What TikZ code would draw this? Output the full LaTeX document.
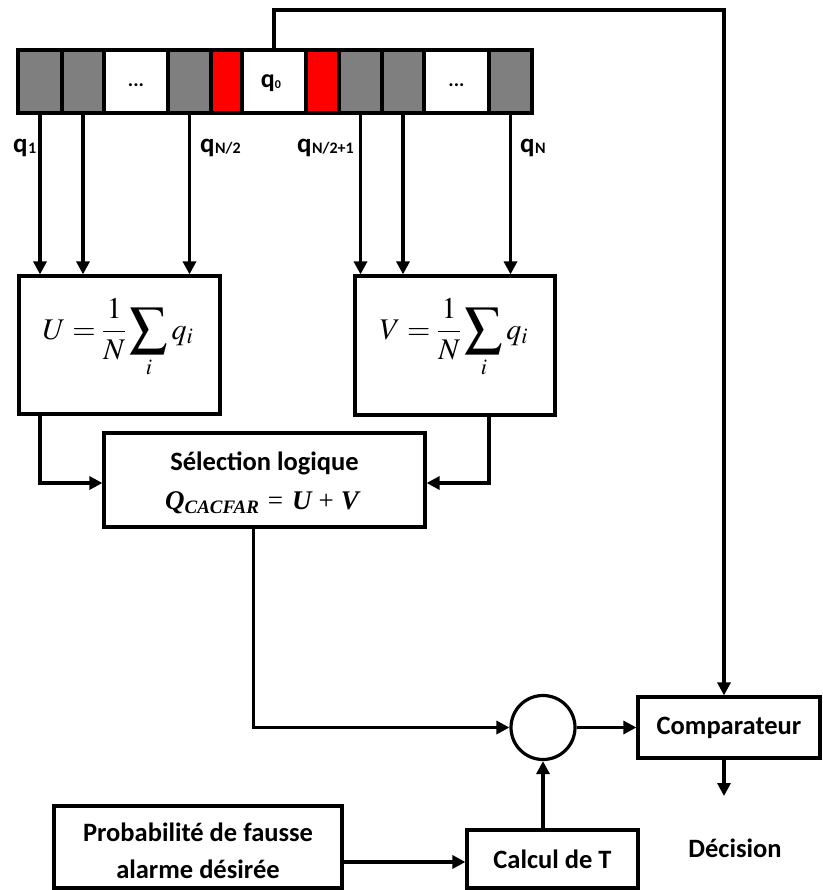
\documentclass[tikz,border=0pt]{standalone}
\usepackage{mathptmx}
\usepackage{graphicx}
\usepackage[no-math]{fontspec}
\newfontfamily\calib{Carlito}
\newfontfamily\tms{Liberation Serif}
\usetikzlibrary{arrows.meta,calc}
\definecolor{cgray}{HTML}{7F7F7F}
\definecolor{cred}{HTML}{FF0000}
\newcommand{\qsub}[1]{\kern0.5pt\raisebox{-1pt}{\fontsize{16}{16}\selectfont #1}}
\newcommand{\bigsum}{\mathop{\vcenter{\hbox{\scalebox{1.25}{$\displaystyle\sum$}}}}\limits_{i}}
\begin{document}
\begin{tikzpicture}[x=1pt,y=-1pt,
  box/.style={draw, line width=3.2pt, inner sep=0pt, align=center, font=\calib\bfseries\fontsize{26.5}{37}\selectfont},
  txt/.style={inner sep=0pt, align=center, font=\calib\bfseries\fontsize{26.5}{37}\selectfont},
  cell/.style={draw, line width=3.2pt, minimum height=63pt, inner sep=0pt},
  arr/.style={line width=3.2pt, -{Triangle[length=13pt,width=13pt]}},
  lab/.style={inner sep=0pt, anchor=base west, font=\calib\bfseries\fontsize{27}{27}\selectfont},
  celltxt/.style={inner sep=0pt, font=\calib\bfseries\fontsize{20}{20}\selectfont},
]
\useasboundingbox (0,0) rectangle (822,890);

% cells
\node[cell, fill=cgray, minimum width=44pt] (c1) at (40,81.5) {};
\node[cell, fill=cgray, minimum width=42pt] (c2) at (83,81.5) {};
\node[cell, fill=white, minimum width=64pt] (c3) at (136,81.5) {};
\node[cell, fill=cgray, minimum width=43pt] (c4) at (189.5,81.5) {};
\node[cell, fill=cred, minimum width=31pt] (c5) at (226.5,81.5) {};
\node[cell, fill=white, minimum width=64pt] (c6) at (274,81.5) {};
\node[cell, fill=cred, minimum width=33pt] (c7) at (322.5,81.5) {};
\node[cell, fill=cgray, minimum width=43pt] (c8) at (360.5,81.5) {};
\node[cell, fill=cgray, minimum width=42pt] (c9) at (403,81.5) {};
\node[cell, fill=white, minimum width=65pt] (c10) at (456.5,81.5) {};
\node[cell, fill=cgray, minimum width=43pt] (c11) at (510.5,81.5) {};
\node[celltxt] (d1) at (136,85) {...};
\node[celltxt] (d2) at (456.5,85) {...};
\node[inner sep=0pt, anchor=base, font=\calib\bfseries\fontsize{26}{26}\selectfont] (q0) at (271,88) {q\raisebox{-0.5pt}{\fontsize{12}{12}\selectfont 0}};

% labels
\node[lab] (l1) at (13,153) {q\qsub{1}};
\node[lab] (l2) at (200,153) {q\qsub{N/2}};
\node[lab] (l3) at (297,153) {q\qsub{N/2+1}};
\node[lab] (l4) at (520,153) {q\qsub{N}};

% U and V boxes
\node[box, minimum width=201pt, minimum height=138pt] (U) at (119.5,345) {};
\node[box, minimum width=200pt, minimum height=139pt] (V) at (455,345.5) {};
\node[inner sep=0pt] (Uf) at (118,338) {\fontsize{30}{36}\selectfont$\displaystyle U=\frac{1}{N}\bigsum q_i$};
\node[inner sep=0pt] (Vf) at (454,338) {\fontsize{30}{36}\selectfont$\displaystyle V=\frac{1}{N}\bigsum q_i$};

% selection
\node[box, minimum width=321pt, minimum height=94pt] (sel) at (264.5,480) {};
\node[txt] (sel1) at (264.5,463) {Sélection logique};
\node[inner sep=0pt] (sel2) at (262,503) {\tms\fontsize{27}{33}\selectfont\bfseries\itshape Q\raisebox{-4pt}{\fontsize{19}{19}\selectfont CACFAR}\hspace{9pt}\mdseries\upshape=\hspace{9pt}\bfseries\itshape U\hspace{7pt}\mdseries\upshape+\hspace{7pt}\bfseries\itshape V};

% lower part
\node[draw, circle, line width=3.2pt, minimum size=64pt, inner sep=0pt] (circ) at (543,727.5) {};
\node[box, minimum width=182pt, minimum height=61pt] (comp) at (729,727.5) {Comparateur};
\node[box, minimum width=171pt, minimum height=58pt] (calc) at (552.5,859) {Calcul de T};
\node[box, minimum width=288pt, minimum height=82pt] (prob) at (198,847) {};
\node[txt] (probt) at (198,851) {Probabilité de fausse\\alarme désirée};
\node[txt] (dec) at (735,848) {Décision};

\coordinate (tr) at (724,10);
\coordinate (dtip) at (724,796);

% connectors
\draw[arr] (c1.south) -- (c1.south |- U.north);
\draw[arr] (c2.south) -- (c2.south |- U.north);
\draw[arr] (c4.south) -- (c4.south |- U.north);
\draw[arr] (c8.south) -- (c8.south |- V.north);
\draw[arr] (c9.south) -- (c9.south |- V.north);
\draw[arr] (c11.south) -- (c11.south |- V.north);

\draw[arr] (c6.north) |- (tr) -- (tr |- comp.north);

\draw[arr] (c1.south |- U.south) |- ([yshift=-3pt]sel.west);
\draw[arr] ([xshift=34pt]V.south) |- ([yshift=-3pt]sel.east);
\draw[arr] ([xshift=-11pt]sel.south) |- (circ.west);
\draw[arr] (circ.east) -- (circ.east -| comp.west);
\draw[arr] (dtip |- comp.south) -- (dtip);
\draw[arr] (calc.north -| circ.south) -- (circ.south);
\draw[arr] ([yshift=-15pt]prob.east) -- ([yshift=-15pt]prob.east -| calc.west);
\end{tikzpicture}
\end{document}
